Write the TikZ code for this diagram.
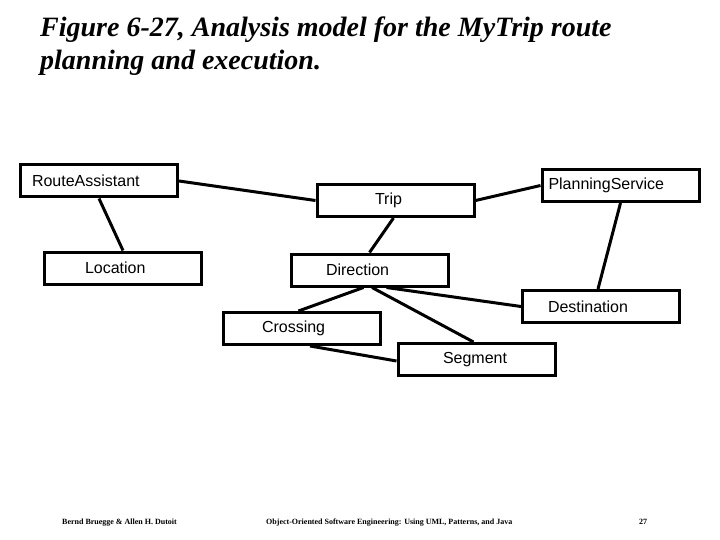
\documentclass[tikz,border=0pt]{standalone}
\usepackage{fontspec}
\setmainfont{Liberation Serif}
\newfontfamily\boxfont{Liberation Sans}
\begin{document}
\begin{tikzpicture}[x=1pt,y=-1pt,
  box/.style={draw, line width=3pt, text width=157pt, align=left, inner xsep=0pt, inner ysep=0pt,
    minimum height=32pt, font=\boxfont\fontsize{16}{18}\selectfont},
  link/.style={line width=3pt},
  foot/.style={anchor=base west, inner sep=0pt, font=\bfseries\fontsize{8}{9}\selectfont}]
\useasboundingbox (0,0) rectangle (720,540);
% title
\node[anchor=base west, inner sep=0pt, align=left, font=\bfseries\itshape\fontsize{28}{33}\selectfont] (title) at (40,70)
  {Figure 6-27, Analysis model for the MyTrip route\\planning and execution.};
% boxes
\node[box] (ra) at (99,181) {\hspace*{11.5pt}RouteAssistant};
\node[box] (loc) at (123,268) {\hspace*{40.5pt}Location};
\node[box] (trip) at (395.5,200.5) {\hspace*{58pt}Trip};
\node[box] (ps) at (620.5,185.5) {\hspace*{6.5pt}PlanningService};
\node[box] (dir) at (369.5,270) {\hspace*{35pt}Direction};
\node[box] (dest) at (601,306.5) {\hspace*{25.5pt}Destination};
\node[box] (cross) at (301.5,328.5) {\hspace*{39pt}Crossing};
\node[box] (seg) at (476.5,359.5) {\hspace*{45pt}Segment};
% connectors
\draw[link] (ra.east) -- (trip.west);
\draw[link] (ra.south) -- (loc.north);
\draw[link] (trip.east) -- (ps.west);
\draw[link] ([xshift=-2pt]trip.south) -- (dir.north);
\draw[link] (ps.south) -- ([xshift=-3pt]dest.north);
\draw[link] ([xshift=-6pt]dir.south) -- ([xshift=-3pt]cross.north);
\draw[link] ([xshift=2.5pt]dir.south) -- ([xshift=-3pt]seg.north);
\draw[link] ([xshift=17pt]dir.south) -- (dest.west);
\draw[link] ([xshift=8.5pt]cross.south) -- ([yshift=-1.5pt]seg.west);
% footer
\node[foot, font=\bfseries\fontsize{8}{9}\selectfont] (auth) at (62,524) {Bernd Bruegge \& Allen H. Dutoit};
\node[foot] (book) at (266,524) {Object-Oriented Software Engineering: Using UML, Patterns, and Java};
\node[foot] (page) at (639,524) {27};
\end{tikzpicture}
\end{document}
